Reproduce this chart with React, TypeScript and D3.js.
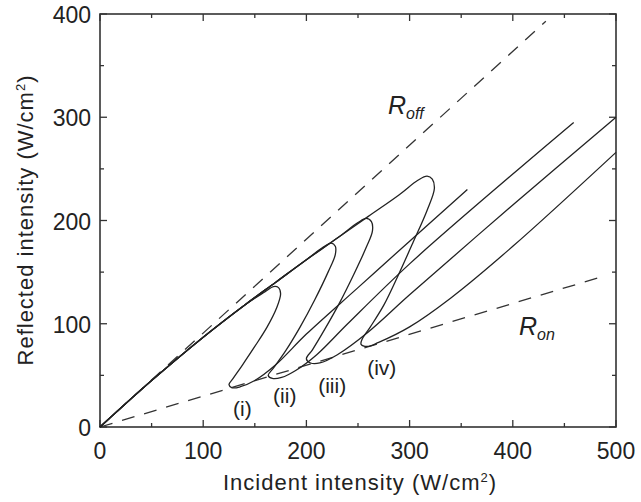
import React, { useEffect, useRef } from "react";
import * as d3 from "d3";

// tick values
const xTicks = [0, 100, 200, 300, 400, 500];
const yTicks = [0, 100, 200, 300, 400];
const minorX = [50, 150, 250, 350, 450];
const minorY = [50, 150, 250, 350];

// dashed limits (incident, reflected)
const rOff = [[0, 0], [432, 393]];
const rOn = [[0, 0], [488, 146]];

// hysteresis curves, points traced along the path (incident, reflected)
const curveI = [[0, 0], [50, 45], [100, 87], [140, 118], [160, 131], [168, 136], [173, 135], [175, 129], [171, 115], [162, 97], [150, 78], [138, 60], [129, 47], [125, 41], [128, 38], [136, 39], [150, 45], [170, 60], [200, 90], [250, 135], [300, 180], [356, 230]];
const curveII = [[0, 0], [50, 45], [100, 87], [140, 118], [170, 140], [200, 162], [216, 174], [224, 178], [228, 175], [228, 167], [221, 150], [208, 123], [194, 97], [180, 74], [168, 57], [163, 50], [167, 47], [176, 48], [190, 55], [210, 70], [240, 100], [300, 158], [400, 245], [459, 295]];
const curveIII = [[0, 0], [50, 45], [100, 87], [140, 118], [170, 140], [200, 162], [230, 183], [250, 198], [258, 202], [263, 199], [264, 190], [258, 174], [246, 148], [232, 120], [218, 95], [206, 75], [200, 66], [204, 62], [213, 62], [230, 70], [260, 92], [300, 128], [400, 215], [500, 300]];
const curveIV = [[0, 0], [50, 45], [100, 87], [140, 118], [170, 140], [200, 162], [230, 183], [260, 204], [290, 225], [308, 239], [317, 243], [322, 240], [324, 231], [317, 210], [303, 178], [289, 147], [275, 118], [262, 97], [254, 85], [253, 80], [259, 78], [270, 82], [300, 97], [340, 125], [400, 175], [500, 266]];
const curves = [curveI, curveII, curveIII, curveIV];

const curveLabels = ["(i)", "(ii)", "(iii)", "(iv)"];
const curveLabelPos = [[138, 11], [179, 23], [225, 33], [273, 50]];

const App = () => {
  const ref = useRef<SVGGElement>(null);

  const margin = { top: 14, left: 100 };
  const width = 516;
  const height = 413;

  useEffect(() => {
    if (!ref.current) return;
    ref.current.innerHTML = "";
    const g = d3.select(ref.current);

    const x = d3.scaleLinear().domain([0, 500]).range([0, width]);
    const y = d3.scaleLinear().domain([0, 400]).range([height, 0]);
    const ink = "#222";
    const font = "'Liberation Sans', Arial, sans-serif";

    // frame
    g.append("rect")
      .attr("width", width).attr("height", height)
      .attr("fill", "none").attr("stroke", "#333").attr("stroke-width", 1.6);

    // ticks, inward on all sides
    const tk = g.append("g").attr("stroke", "#333").attr("stroke-width", 1.3);
    const xt = xTicks.map((v) => [v, 7]).concat(minorX.map((v) => [v, 4]));
    const yt = yTicks.map((v) => [v, 7]).concat(minorY.map((v) => [v, 4]));
    xt.forEach(([v, l]) => {
      tk.append("line").attr("x1", x(v)).attr("x2", x(v)).attr("y1", height).attr("y2", height - l);
      tk.append("line").attr("x1", x(v)).attr("x2", x(v)).attr("y1", 0).attr("y2", l);
    });
    yt.forEach(([v, l]) => {
      tk.append("line").attr("y1", y(v)).attr("y2", y(v)).attr("x1", 0).attr("x2", l);
      tk.append("line").attr("y1", y(v)).attr("y2", y(v)).attr("x1", width).attr("x2", width - l);
    });

    // tick labels
    g.selectAll(".xl").data(xTicks).enter().append("text")
      .attr("x", (d) => x(d)).attr("y", height + 32)
      .attr("text-anchor", "middle").attr("font-size", 23).attr("font-family", font).attr("fill", ink)
      .text((d) => d);
    g.selectAll(".yl").data(yTicks).enter().append("text")
      .attr("x", -9).attr("y", (d) => y(d) + 9)
      .attr("text-anchor", "end").attr("font-size", 23).attr("font-family", font).attr("fill", ink)
      .text((d) => d);

    // axis titles
    const xt2 = g.append("text")
      .attr("x", 260).attr("y", height + 63)
      .attr("text-anchor", "middle").attr("font-size", 22).attr("letter-spacing", 1)
      .attr("font-family", font).attr("fill", ink);
    xt2.append("tspan").text("Incident intensity (W/cm");
    xt2.append("tspan").attr("font-size", 13).attr("dy", -8).text("2");
    xt2.append("tspan").attr("dy", 8).text(")");

    const yt2 = g.append("text")
      .attr("transform", `translate(${-67},${206}) rotate(-90)`)
      .attr("text-anchor", "middle").attr("font-size", 22).attr("letter-spacing", 1)
      .attr("font-family", font).attr("fill", ink);
    yt2.append("tspan").text("Reflected intensity (W/cm");
    yt2.append("tspan").attr("font-size", 13).attr("dy", -8).text("2");
    yt2.append("tspan").attr("dy", 8).text(")");

    const line = d3.line<number[]>().x((d) => x(d[0])).y((d) => y(d[1]));
    const smooth = d3.line<number[]>().x((d) => x(d[0])).y((d) => y(d[1])).curve(d3.curveCatmullRom.alpha(0.5));

    // dashed limits
    [rOff, rOn].forEach((d) => {
      g.append("path").attr("d", line(d as number[][])).attr("fill", "none")
        .attr("stroke", "#333").attr("stroke-width", 1.3).attr("stroke-dasharray", "13,10");
    });

    // curves
    curves.forEach((c) => {
      g.append("path").attr("d", smooth(c as number[][])).attr("fill", "none")
        .attr("stroke", "#222").attr("stroke-width", 1.3);
    });

    // curve labels
    curveLabels.forEach((t, i) => {
      g.append("text")
        .attr("x", x(curveLabelPos[i][0])).attr("y", y(curveLabelPos[i][1]))
        .attr("text-anchor", "middle").attr("font-size", 21).attr("font-family", font).attr("fill", ink)
        .text(t);
    });

    // R labels
    const rl = (xv: number, yv: number, sub: string) => {
      const t = g.append("text").attr("x", x(xv)).attr("y", y(yv))
        .attr("font-size", 25).attr("font-family", font).attr("font-style", "italic").attr("fill", ink);
      t.append("tspan").text("R");
      t.append("tspan").attr("font-size", 16).attr("dy", 5).text(sub);
    };
    rl(279, 303, "off");
    rl(406, 89, "on");
  }, [width, height]);

  return (
    <svg width={641} height={502} style={{ position: "absolute", left: 0, top: 0 }}>
      <g ref={ref} transform={`translate(${margin.left},${margin.top})`} />
    </svg>
  );
};

export default App;
